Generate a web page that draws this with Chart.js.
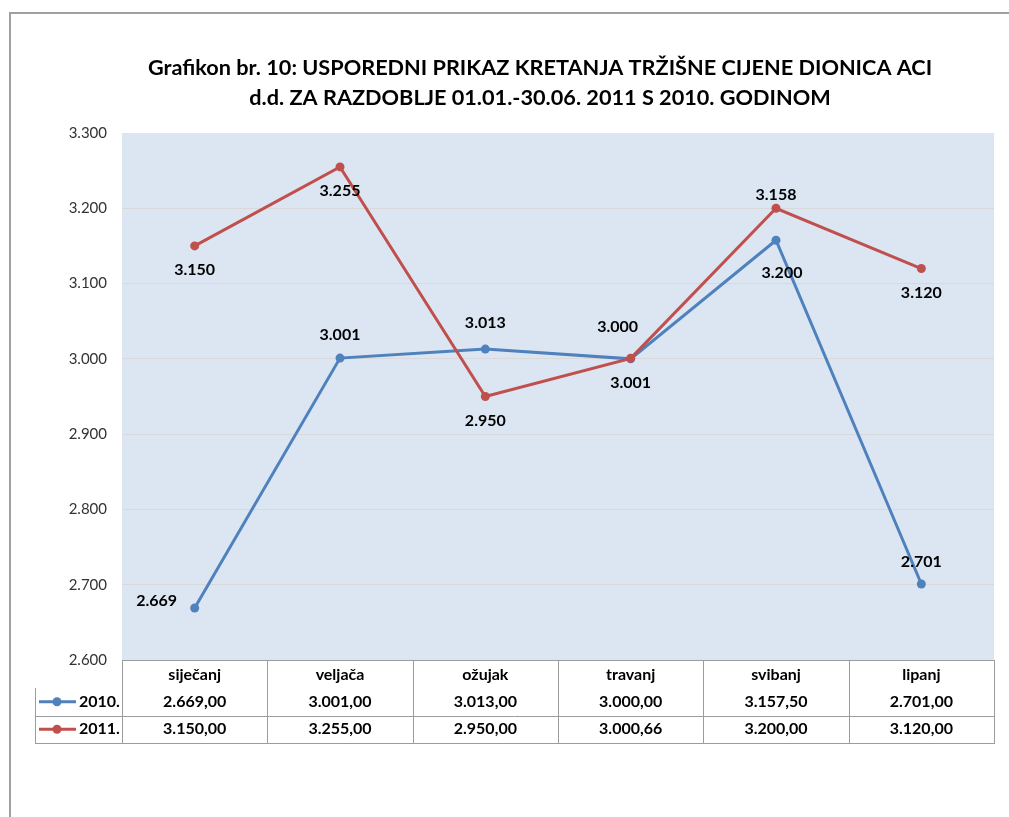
<!DOCTYPE html>
<html>
<head>
<meta charset="utf-8">
<title>Grafikon br. 10</title>
<script src="https://cdn.jsdelivr.net/npm/chart.js@4/dist/chart.umd.min.js"></script>
<style>
  html, body { margin: 0; padding: 0; background: #fff; }
  #wrap { position: relative; width: 1009px; height: 817px; overflow: hidden; }
  #okvir {
    position: absolute; left: 9px; top: 12px; width: 1100px; height: 900px;
    border-left: 2px solid #a0a0a0; border-top: 2px solid #a0a0a0;
  }
  #grafikon { position: absolute; left: 0; top: 0; }
</style>
</head>
<body>
<div id="wrap">
  <div id="okvir"></div>
  <canvas id="grafikon" width="1009" height="817"></canvas>
</div>
<script>
// Podaci grafikona
const mjeseci = ['siječanj', 'veljača', 'ožujak', 'travanj', 'svibanj', 'lipanj'];
const godine = ['2010.', '2011.'];
const cijene2010 = [2669.00, 3001.00, 3013.00, 3000.00, 3157.50, 2701.00];
const cijene2011 = [3150.00, 3255.00, 2950.00, 3000.66, 3200.00, 3120.00];
const naslov = [
  'Grafikon br. 10: USPOREDNI PRIKAZ KRETANJA TRŽIŠNE CIJENE DIONICA ACI',
  'd.d. ZA RAZDOBLJE 01.01.-30.06. 2011 S 2010. GODINOM'
];
const osY = { min: 2600, max: 3300, korak: 100 };

// Pomaci oznaka vrijednosti (u pikselima) kao na predlošku
const pomaciOznaka2010 = [[-38, -7], [0, -23], [0, -26], [-13, -32], [0, -45], [0, -22]];
const pomaciOznaka2011 = [[0, 24], [0, 24], [0, 24], [0, 24], [6, 65], [0, 24]];

// Boje
const plava = '#4f81bd';
const crvena = '#c0504d';
const pozadinaGrafa = '#dce6f2';
const bojaLinija = '#9c9c9c';
const FONT = 'Lato, "Open Sans", sans-serif';

// Hrvatski format broja: 3.157,50
const formatBroj = (v, dec) => {
  const fixed = v.toFixed(dec);
  let [cijeli, decimalni] = fixed.split('.');
  cijeli = cijeli.replace(/\B(?=(\d{3})+(?!\d))/g, '.');
  return decimalni ? cijeli + ',' + decimalni : cijeli;
};

// Pozadina područja grafa
const pozadinaPlugin = {
  id: 'pozadina',
  beforeDraw(chart) {
    const { ctx, chartArea: a } = chart;
    ctx.save();
    ctx.fillStyle = pozadinaGrafa;
    ctx.fillRect(a.left, a.top, a.right - a.left, a.bottom - a.top);
    ctx.restore();
  }
};

// Naslov u dva retka (centriran kao na predlošku)
const naslovPlugin = {
  id: 'naslov',
  afterDraw(chart) {
    const { ctx } = chart;
    ctx.save();
    ctx.font = 'bold 21.7px ' + FONT;
    ctx.fillStyle = '#000';
    ctx.textAlign = 'center';
    ctx.textBaseline = 'middle';
    ctx.fillText(naslov[0], 540, 68);
    ctx.fillText(naslov[1], 540, 98);
    ctx.restore();
  }
};

// Oznake vrijednosti uz točke
const oznakePlugin = {
  id: 'oznake',
  afterDatasetsDraw(chart) {
    const { ctx } = chart;
    const pomaci = [pomaciOznaka2010, pomaciOznaka2011];
    ctx.save();
    ctx.font = 'bold 16px ' + FONT;
    ctx.fillStyle = '#000';
    ctx.textAlign = 'center';
    ctx.textBaseline = 'middle';
    chart.data.datasets.forEach((ds, di) => {
      const meta = chart.getDatasetMeta(di);
      meta.data.forEach((pt, i) => {
        const [dx, dy] = pomaci[di][i];
        ctx.fillText(formatBroj(ds.data[i], 0), pt.x + dx, pt.y + dy);
      });
    });
    ctx.restore();
  }
};

// Tablica podataka ispod grafa
const tablicaPlugin = {
  id: 'tablica',
  afterDraw(chart) {
    const { ctx, chartArea: a, scales } = chart;
    const x = scales.x;
    const visinaZaglavlja = 28;
    const visinaRetka = 27.5;
    const lijevo = 35;
    const r1 = a.bottom + visinaZaglavlja;
    const r2 = r1 + visinaRetka;
    const r3 = r2 + visinaRetka;
    const sirinaStupca = (a.right - a.left) / mjeseci.length;

    ctx.save();
    ctx.strokeStyle = bojaLinija;
    ctx.lineWidth = 1;
    ctx.beginPath();
    // vertikalne linije stupaca
    for (let i = 0; i <= mjeseci.length; i++) {
      const xx = Math.round(a.left + i * sirinaStupca) + 0.5;
      ctx.moveTo(xx, a.bottom);
      ctx.lineTo(xx, r3);
    }
    // lijevi rub legende
    ctx.moveTo(lijevo + 0.5, r1);
    ctx.lineTo(lijevo + 0.5, r3);
    // horizontalne linije
    ctx.moveTo(lijevo, Math.round(r2) + 0.5);
    ctx.lineTo(a.right, Math.round(r2) + 0.5);
    ctx.moveTo(lijevo, Math.round(r3) + 0.5);
    ctx.lineTo(a.right + 1, Math.round(r3) + 0.5);
    ctx.stroke();

    const redovi = [
      { naziv: godine[0], boja: plava, podaci: cijene2010, y: (r1 + r2) / 2 },
      { naziv: godine[1], boja: crvena, podaci: cijene2011, y: (r2 + r3) / 2 }
    ];
    redovi.forEach(red => {
      // oznaka legende
      ctx.strokeStyle = red.boja;
      ctx.lineWidth = 3;
      ctx.beginPath();
      ctx.moveTo(39, red.y);
      ctx.lineTo(76, red.y);
      ctx.stroke();
      ctx.fillStyle = red.boja;
      ctx.beginPath();
      ctx.arc(57, red.y, 4.5, 0, Math.PI * 2);
      ctx.fill();

      ctx.fillStyle = '#000';
      ctx.font = 'bold 16px ' + FONT;
      ctx.textBaseline = 'middle';
      ctx.textAlign = 'left';
      ctx.fillText(red.naziv, 79, red.y);
      ctx.textAlign = 'center';
      red.podaci.forEach((v, i) => {
        ctx.fillText(formatBroj(v, 2), x.getPixelForValue(i), red.y);
      });
    });
    ctx.restore();
  }
};

const ctx = document.getElementById('grafikon');

new Chart(ctx, {
  type: 'line',
  data: {
    labels: mjeseci,
    datasets: [
      {
        label: godine[0],
        data: cijene2010,
        borderColor: plava,
        backgroundColor: plava,
        pointBackgroundColor: plava,
        borderWidth: 3,
        pointRadius: 4.5,
        pointBorderWidth: 0,
        order: 1
      },
      {
        label: godine[1],
        data: cijene2011,
        borderColor: crvena,
        backgroundColor: crvena,
        pointBackgroundColor: crvena,
        borderWidth: 3,
        pointRadius: 4.5,
        pointBorderWidth: 0,
        order: 0
      }
    ]
  },
  options: {
    responsive: false,
    animation: false,
    layout: {
      padding: { left: 0, right: 15, top: 133, bottom: 74 }
    },
    plugins: {
      legend: { display: false },
      tooltip: { enabled: false },
      title: { display: false }
    },
    scales: {
      x: {
        type: 'category',
        offset: true,
        grid: { display: false, drawTicks: false },
        border: { display: true, color: bojaLinija, width: 1 },
        ticks: {
          color: '#000',
          font: { family: FONT, size: 16, weight: 'bold' },
          padding: 5,
          maxRotation: 0
        },
        afterFit(scale) { scale.height = 83; }
      },
      y: {
        min: osY.min,
        max: osY.max,
        grid: {
          color: (c) => c.tick && c.tick.value === osY.max ? 'rgba(0,0,0,0)' : '#d9d9d9',
          drawTicks: false
        },
        border: { display: false },
        ticks: {
          stepSize: osY.korak,
          color: '#333',
          font: { family: FONT, size: 15 },
          padding: 15,
          callback: (v) => formatBroj(v, 0)
        },
        afterFit(scale) { scale.width = 122; }
      }
    }
  },
  plugins: [pozadinaPlugin, naslovPlugin, oznakePlugin, tablicaPlugin]
});
</script>
</body>
</html>
